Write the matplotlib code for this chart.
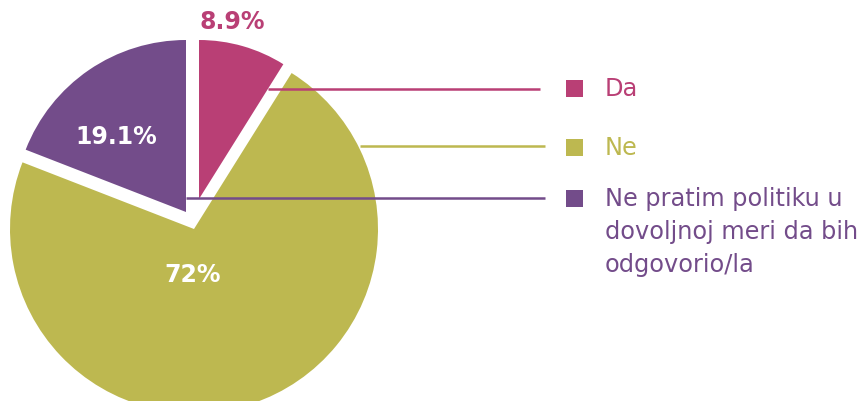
import matplotlib
matplotlib.use("Agg")
import matplotlib.pyplot as plt
from matplotlib.patches import Rectangle

# ---- data ----
categories = ["Da", "Ne", "Ne pratim politiku u\ndovoljnoj meri da bih\nodgovorio/la"]
values = [8.9, 72.0, 19.1]
pct_labels = ["{:g}%".format(v) for v in values]

colors = ["#B93F75", "#BDB850", "#734C8A"]

W, H = 863, 402
fig = plt.figure(figsize=(W / 100, H / 100), dpi=100)
ax = fig.add_axes([0, 0, 1, 1])


def Y(y):
    return H - y


wedges, _ = ax.pie(values, colors=colors, startangle=90, counterclock=False,
                   radius=1, wedgeprops=dict(linewidth=0))

# exploded geometry (pixel units)
centers = [(199, Y(200)), (194, Y(230)), (186, Y(213))]
radii = [159, 184, 172]
for w, c, r in zip(wedges, centers, radii):
    w.set_center(c)
    w.set_radius(r)

ax.set_xlim(0, W)
ax.set_ylim(0, H)
ax.set_aspect("equal")
ax.axis("off")

bold = dict(family=["DejaVu Sans"], fontweight="bold", fontsize=17)
ax.text(232, Y(22), pct_labels[0], color=colors[0], ha="center", va="center", **bold)
ax.text(193, Y(275), pct_labels[1], color="white", ha="center", va="center", **bold)
ax.text(116, Y(137), pct_labels[2], color="white", ha="center", va="center", **bold)

# leader lines
leaders = [((268, 540), 90), ((360, 545), 147), ((186, 545), 199)]
for ((x0, x1), y), col in zip(leaders, colors):
    ax.plot([x0, x1], [Y(y), Y(y)], color=col, lw=1.8, solid_capstyle="butt")

# legend
leg_y = [89, 148, 199]
baselines = [96, 155, 206]
line_step = 33
for cat, col, y, b in zip(categories, colors, leg_y, baselines):
    ax.add_patch(Rectangle((566, Y(y) - 8.5), 17, 17, facecolor=col, edgecolor="none"))
    for i, line in enumerate(cat.split("\n")):
        ax.text(605, Y(b + i * line_step), line, color=col, ha="left", va="baseline",
                family=["DejaVu Sans"], fontsize=17.3)

fig.savefig("out.png", dpi=100)
